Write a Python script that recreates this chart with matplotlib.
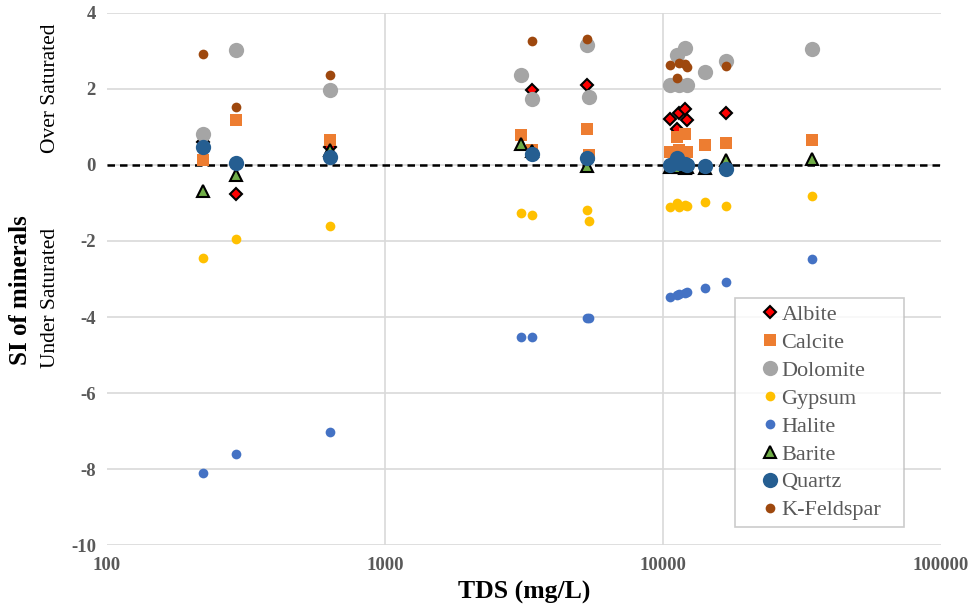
import numpy as np
import matplotlib
matplotlib.use('Agg')
import matplotlib.pyplot as plt

# TDS of each sample (mg/L)
tds = [221, 290, 632, 3090, 3380, 5350, 5420,
       10600, 11200, 11400, 12000, 12200, 14200, 16900, 34300]

nan = np.nan
# saturation indices, one value per sample (nan = not plotted)
albite = [0.60, -0.76, 0.48, nan, 1.97, 2.09, nan,
          1.21, 0.95, 1.36, 1.47, 1.18, nan, 1.36, nan]
calcite = [0.13, 1.17, 0.64, 0.79, 0.40, 0.94, 0.26,
           0.33, 0.72, 0.38, 0.82, 0.33, 0.51, 0.57, 0.66]
dolomite = [0.81, 3.01, 1.97, 2.37, 1.74, 3.16, 1.78,
            2.10, 2.89, 2.10, 3.07, 2.10, 2.45, 2.72, 3.03]
gypsum = [-2.44, -1.96, -1.60, -1.27, -1.32, -1.18, -1.47,
          -1.11, -1.00, -1.10, -1.05, -1.08, -0.99, -1.07, -0.83]
halite = [-8.09, -7.61, -7.03, -4.53, -4.53, -4.03, -4.03,
          -3.47, -3.42, -3.39, -3.37, -3.35, -3.24, -3.07, -2.48]
barite = [-0.68, -0.28, 0.39, 0.55, 0.35, -0.04, nan,
          -0.05, 0.00, -0.05, -0.08, -0.05, -0.08, 0.13, 0.14]
quartz = [0.47, 0.04, 0.20, nan, 0.28, 0.18, nan,
          0.00, 0.18, 0.05, 0.02, 0.00, -0.02, -0.12, nan]
kfeldspar = [2.92, 1.52, 2.37, nan, 3.25, 3.31, nan,
             2.63, 2.28, 2.68, 2.65, 2.57, nan, 2.59, nan]

x_ticks = [100, 1000, 10000, 100000]
y_ticks = [-10, -8, -6, -4, -2, 0, 2, 4]

serif = ['Liberation Serif', 'DejaVu Serif']
plt.rcParams['font.family'] = serif

fig = plt.figure(figsize=(9.73, 6.16), dpi=100)
ax = fig.add_axes([0.110, 0.1146, 0.857, 0.865])

# (label, values, marker, size, face, edge, edge width)
series = [
    ('Albite', albite, 'D', 6, '#FF0000', 'black', 1.5),
    ('Calcite', calcite, 's', 8, '#ED7D31', '#ED7D31', 0),
    ('Dolomite', dolomite, 'o', 11, '#A5A5A5', '#A5A5A5', 0),
    ('Gypsum', gypsum, 'o', 7, '#FFC000', '#FFC000', 0),
    ('Halite', halite, 'o', 7, '#4472C4', '#4472C4', 0),
    ('Barite', barite, '^', 9, '#70AD47', 'black', 1.5),
    ('Quartz', quartz, 'o', 11, '#255E91', '#255E91', 0),
    ('K-Feldspar', kfeldspar, 'o', 7, '#9E480E', '#9E480E', 0),
]

for i, (name, vals, mk, ms, fc, ec, ew) in enumerate(series):
    ax.plot(tds, vals, linestyle='none', marker=mk, markersize=ms,
            markerfacecolor=fc, markeredgecolor=ec, markeredgewidth=ew,
            label=name, zorder=3 + i)

ax.axhline(0, color='black', linestyle=(0, (3, 2)), linewidth=1.8, zorder=2)

ax.set_xscale('log')
ax.set_xlim(100, 100000)
ax.set_ylim(-10, 4)
ax.set_xticks(x_ticks)
ax.set_xticklabels([str(t) for t in x_ticks])
ax.set_yticks(y_ticks)
ax.set_yticklabels([str(t) for t in y_ticks])
ax.minorticks_off()
ax.tick_params(length=0, labelsize=13.5, colors='#595959', pad=8)
for lab in ax.get_xticklabels() + ax.get_yticklabels():
    lab.set_fontweight('bold')

ax.grid(True, color='#D9D9D9', linewidth=1.2, zorder=0)
gl = ax.xaxis.get_gridlines()
gl[0].set_visible(False)
gl[-1].set_visible(False)
for s in ax.spines.values():
    s.set_visible(False)

ax.set_xlabel('TDS (mg/L)', fontsize=18.5, fontweight='bold', labelpad=5)
fig.text(0.021, 0.529, 'SI of minerals', rotation=90, ha='center', va='center',
         fontsize=18, fontweight='bold')
fig.text(0.052, 0.857, 'Over Saturated', rotation=90, ha='center', va='center',
         fontsize=15.5)
fig.text(0.052, 0.516, 'Under Saturated', rotation=90, ha='center', va='center',
         fontsize=15.5)

leg = ax.legend(loc='lower left', bbox_to_anchor=(0.753, 0.0345, 0.2026, 0.2),
                mode='expand', fontsize=16,
                frameon=True, fancybox=False, edgecolor='#BFBFBF',
                handletextpad=-0.81, labelspacing=0.33, borderpad=0.3,
                handlelength=2.6, borderaxespad=0)
for t in leg.get_texts():
    t.set_color('#595959')
leg.get_frame().set_linewidth(1.2)

fig.savefig('out.png', dpi=100)
